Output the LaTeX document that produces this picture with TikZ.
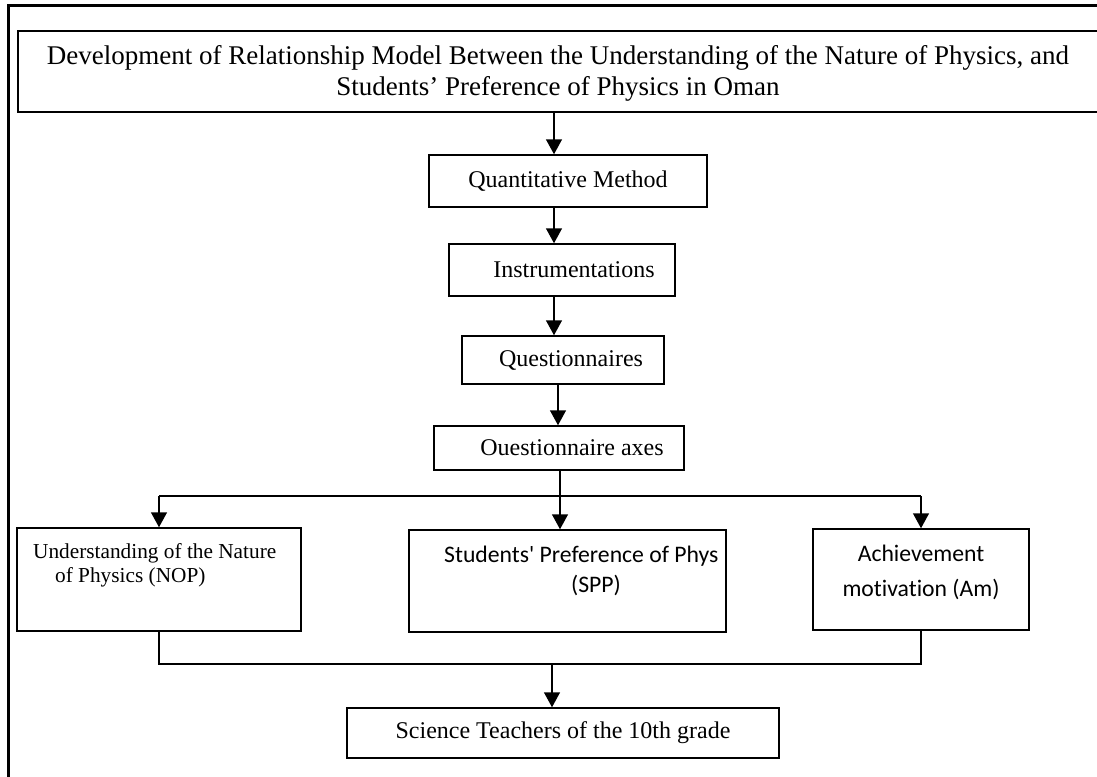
\documentclass[tikz,border=0pt]{standalone}
\usepackage{fontspec}
\setmainfont{Liberation Serif}
\newfontfamily\calibrifont[Ligatures=NoCommon]{Carlito}
\usetikzlibrary{arrows.meta}

\tikzset{
  box/.style={draw, line width=1.5pt, inner sep=0pt},
  txt/.style={inner sep=0pt, font=\fontsize{24}{29}\selectfont},
  smalltxt/.style={inner sep=0pt, align=left, font=\fontsize{21.3}{24}\selectfont},
  calitxt/.style={inner sep=0pt, align=center, font=\calibrifont\fontsize{23.7}{35}\selectfont},
  arr/.style={line width=1.5pt, -{Triangle[length=15pt,width=16pt]}},
  link/.style={line width=1.5pt},
}

\begin{document}
\begin{tikzpicture}[x=1pt,y=-1pt]
      \useasboundingbox (0,0) rectangle (1097,776);
      \draw[line width=3pt] (8,790) -- (8,6) -- (1110,6);
      \node[box, line width=2.2pt, minimum width=1084pt, minimum height=81pt] (title) at (560,71.5) {};
      \node[txt, align=center, font=\fontsize{27}{31}\selectfont] (titletxt) at (558,73)
        {Development of Relationship Model Between the Understanding of the Nature of Physics, and\\
         Students’ Preference of Physics in Oman};
      \node[box, minimum width=278pt, minimum height=52pt] (qm) at (568,181) {};
      \node[txt] (qmtxt) at (568,181) {Quantitative Method};
      \node[box, minimum width=226pt, minimum height=52pt] (instr) at (562,270) {};
      \node[txt] (instrtxt) at (574,270) {Instrumentations};
      \node[box, minimum width=202pt, minimum height=48pt] (quest) at (563,360) {};
      \node[txt] (questtxt) at (571,360) {Questionnaires};
      \node[box, minimum width=250pt, minimum height=44pt] (axes) at (559,448) {};
      \node[txt] (axestxt) at (572,448) {Ouestionnaire axes};
      \node[box, minimum width=284pt, minimum height=103pt] (nop) at (159,579.5) {};
      \node[smalltxt, anchor=west] (noptxt) at (33,565)
        {Understanding of the Nature\\\hspace*{22pt}of Physics (NOP)};
      \node[box, minimum width=317pt, minimum height=102pt] (spp) at (567.5,581) {};
      \node[calitxt, anchor=west] (spptxt) at (444,556) {Students' Preference of Phys};
      \node[calitxt] (spptxtb) at (596,585) {(SPP)};
      \node[box, minimum width=216pt, minimum height=101pt] (am) at (921,579.5) {};
      \node[calitxt] (amtxt) at (921,572) {Achievement\\motivation (Am)};
      \node[box, minimum width=432pt, minimum height=50pt] (sci) at (563,733) {};
      \node[txt] (scitxt) at (563,733) {Science Teachers of the 10th grade};
      \coordinate (s1) at (554,0);
      \coordinate (s2) at (558,0);
      \coordinate (s3) at (560,0);
      \coordinate (split) at (560,496);
      \coordinate (join) at (552,664);
      \draw[arr] (title.south -| s1) -- (qm.north -| s1);
      \draw[arr] (qm.south -| s1) -- (instr.north -| s1);
      \draw[arr] (instr.south -| s1) -- (quest.north -| s1);
      \draw[arr] (quest.south -| s2) -- (axes.north -| s2);
      \draw[arr] (axes.south -| s3) -- (spp.north -| s3);
      \draw[link] (split -| nop.north) -- (split -| am.north);
      \draw[arr] (split -| nop.north) -- (nop.north);
      \draw[arr] (split -| am.north) -- (am.north);
      \draw[link] (nop.south) -- (join -| nop.south) -- (join -| am.south) -- (am.south);
      \draw[arr] (join) -- (sci.north -| join);
    \end{tikzpicture}
\end{document}
